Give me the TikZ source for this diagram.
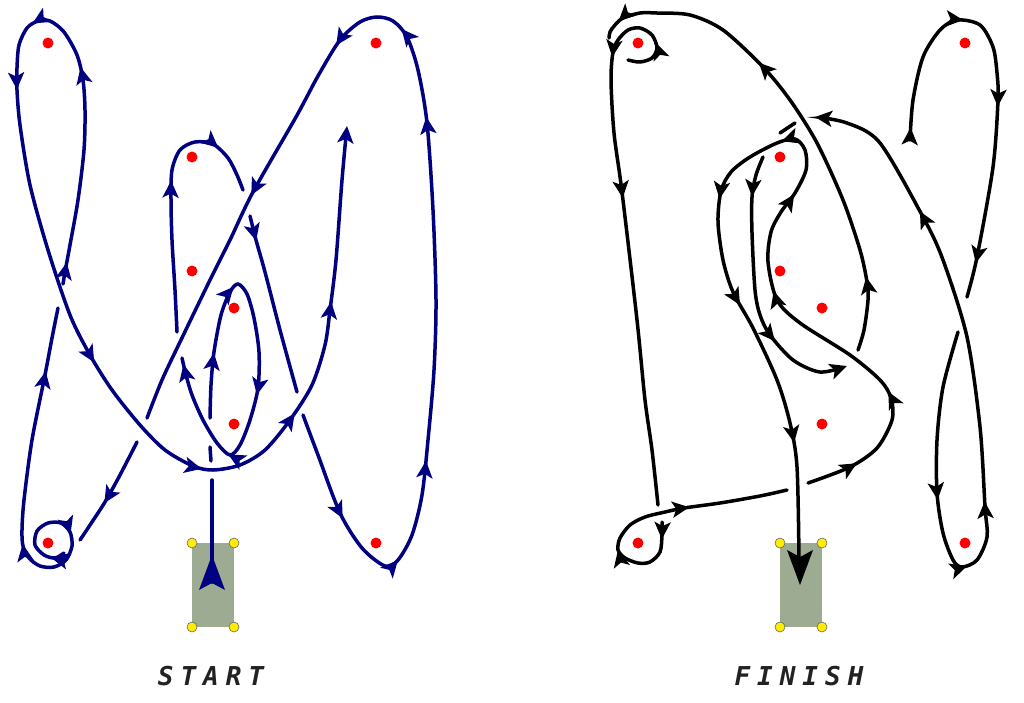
\documentclass[tikz,border=0pt]{standalone}
\usepackage{fontspec}
\usetikzlibrary{arrows.meta,decorations.markings}
\newfontfamily\lblfont{DejaVu Sans Mono}
\definecolor{pathblue}{RGB}{0,0,128}
\definecolor{boxgreen}{RGB}{157,171,147}
\definecolor{cornery}{RGB}{255,236,0}
\definecolor{lblgray}{RGB}{34,34,34}
\tikzset{
  arr/.style={postaction={decorate,decoration={markings,mark=at position #1 with {\arrow{Stealth[length=17pt,width=16pt,inset=4pt]}}}}},
  curve/.style={line width=3.5pt,line cap=round},
  endarr/.style={-{Stealth[length=17pt,width=16pt,inset=4pt]}},
  reddot/.style={fill=red},
  corner/.style={fill=cornery,draw=black!60,line width=0.6pt},
  board/.style={fill=boxgreen},
  lbl/.style={font=\lblfont\bfseries\itshape\fontsize{26}{26}\selectfont,text=lblgray}
}
\begin{document}
\begin{tikzpicture}[x=1pt,y=-1pt]
\fill[white] (0,0) rectangle (1024,702);
\useasboundingbox (0,0) rectangle (1024,702);

% ---------- boards ----------
\fill[board] (192,543) rectangle (234,627);
\fill[board] (780,543) rectangle (822,627);

% ---------- LEFT (START) ----------
\begin{scope}[pathblue,curve]
\draw (212,582) -- (212,480);
\draw (210,447) -- (211,461);
\draw[arr=0.15,arr=0.31,arr=0.59,arr=0.75,arr=0.985] plot[smooth] coordinates {(210,418) (211,385) (214,352) (221,315) (230,292) (238,284) (247,294) (254,318) (259,352) (258,388) (250,420) (240,445) (230,455) (217,443) (203,420) (192,395) (186,375) (182,358)};
\draw[arr=0.55,arr=0.82] plot[smooth] coordinates {(177,332) (175,290) (172,240) (171,200) (172,170) (180,150) (195,142) (213,144) (228,158) (237,175) (243,190)};
\draw[arr=0.14] plot[smooth] coordinates {(250,216) (256,240) (265,272) (280,330) (297,392)};
\draw[arr=0.09,arr=0.155,arr=0.24,arr=0.52,arr=0.595,arr=0.66,arr=0.80] plot[smooth] coordinates {(303,415) (318,455) (340,513) (362,548) (385,566) (398,560) (412,535) (422,495) (428,440) (434,370) (436,300) (433,210) (427,123) (418,70) (407,37) (393,21) (377,17) (360,22) (340,40) (318,76) (296,117) (253,192) (230,240) (210,280) (180,342) (162,380) (147,418)};
\draw[arr=0.61] plot[smooth] coordinates {(137,442) (120,475) (105,502) (90,525) (80,540)};
\draw[arr=0.035,arr=0.22,arr=0.425,arr=0.845] plot[smooth] coordinates {(64,553) (55,558) (44,555) (35,545) (37,531) (48,523) (61,523) (70,532) (72,546) (66,560) (54,567) (40,566) (29,558) (23,546) (22,530) (24,500) (32,440) (45,375) (52,338) (58,308)};
\draw[endarr,arr=0.018,arr=0.18,arr=0.242,arr=0.30,arr=0.535,arr=0.662,arr=0.757,arr=0.855] plot[smooth] coordinates {(63,284) (65,272) (70,245) (78,200) (84,150) (85,110) (83,80) (77,55) (64,32) (50,21) (38,21) (27,28) (19,45) (17,68) (17,90) (20,125) (30,185) (48,250) (70,315) (90,355) (112,390) (140,425) (165,450) (193,466) (213,470) (240,465) (265,450) (290,420) (312,385) (325,345) (330,310) (336,260) (342,180) (347,126)};
\end{scope}
\fill[pathblue] (212,555) -- (225,590) -- (212,583) -- (199,590) -- cycle;

% ---------- RIGHT (FINISH) ----------
\begin{scope}[black,curve]
\draw[arr=0.028,arr=0.325,arr=0.56,arr=0.92] plot[smooth] coordinates {(910,140) (913,100) (923,57) (940,30) (957,20) (980,25) (993,47) (997,73) (998,100) (993,167) (977,257) (967,297)};
\draw[endarr,arr=0.22,arr=0.323,arr=0.417,arr=0.805] plot[smooth] coordinates {(958,332) (943,387) (937,440) (937,493) (943,533) (953,560) (962,567) (977,560) (987,537) (985,507) (980,427) (967,337) (943,260) (923,217) (880,143) (847,123) (815,117)};
\draw (795,123) -- (780,133);
\draw[endarr,arr=0.15,arr=0.695] plot[smooth] coordinates {(763,157) (756,175) (752,197) (752,233) (755,290) (760,315) (770,335) (793,360) (820,372) (847,366)};
\draw[arr=0.15,arr=0.64,arr=0.96] plot[smooth] coordinates {(858,350) (864,330) (868,300) (867,282) (860,250) (843,200) (817,143) (790,100) (763,67) (723,30) (690,15) (657,13) (640,13) (623,18) (615,25) (610,32) (609,38)};
\draw[arr=0.075,arr=0.195,arr=0.448] plot[smooth] coordinates {(628,60) (640,62) (652,58) (657,48) (652,35) (640,28) (628,30) (618,40) (613,52) (611,80) (614,133) (622,192) (637,320) (645,400) (652,450) (658,505)};
\draw[arr=0.063,arr=0.30,arr=0.635] plot[smooth] coordinates {(662,522) (662,535) (660,552) (650,562) (638,563) (625,558) (618,550) (620,538) (630,525) (645,517) (665,512) (684,508) (720,503) (760,496) (787,490)};
\draw[arr=0.056,arr=0.148,arr=0.313,arr=0.424,arr=0.505,arr=0.60,arr=0.717,arr=0.875] plot[smooth] coordinates {(808,483) (850,467) (877,448) (892,420) (891,398) (880,380) (850,355) (800,323) (777,300) (768,262) (771,232) (781,212) (795,193) (806,170) (805,150) (795,139) (777,143) (750,157) (731,172) (721,191) (718,222) (723,260) (733,292) (753,328) (777,380) (790,423) (797,467) (799,560)};
\end{scope}
\fill[black] (800,585) -- (813,550) -- (800,557) -- (787,550) -- cycle;

% ---------- dots ----------
\foreach \p in {(48,43),(192,157),(192,271),(234,308),(234,424),(48,543),(376,43),(376,543),(638,43),(965,43),(780,157),(780,271),(822,308),(822,424),(638,543),(965,543)}
  \fill[reddot] \p circle (5.5);
\foreach \p in {(192,543),(234,543),(192,627),(234,627),(780,543),(822,543),(780,627),(822,627)}
  \filldraw[corner] \p circle (5);

% ---------- labels ----------
\node[lbl] (start) at (211,676) {S\kern7pt T\kern7pt A\kern7pt R\kern7pt T};
\node[lbl] (finish) at (799,676) {F\kern7pt I\kern7pt N\kern7pt I\kern7pt S\kern7pt H};
\end{tikzpicture}
\end{document}
